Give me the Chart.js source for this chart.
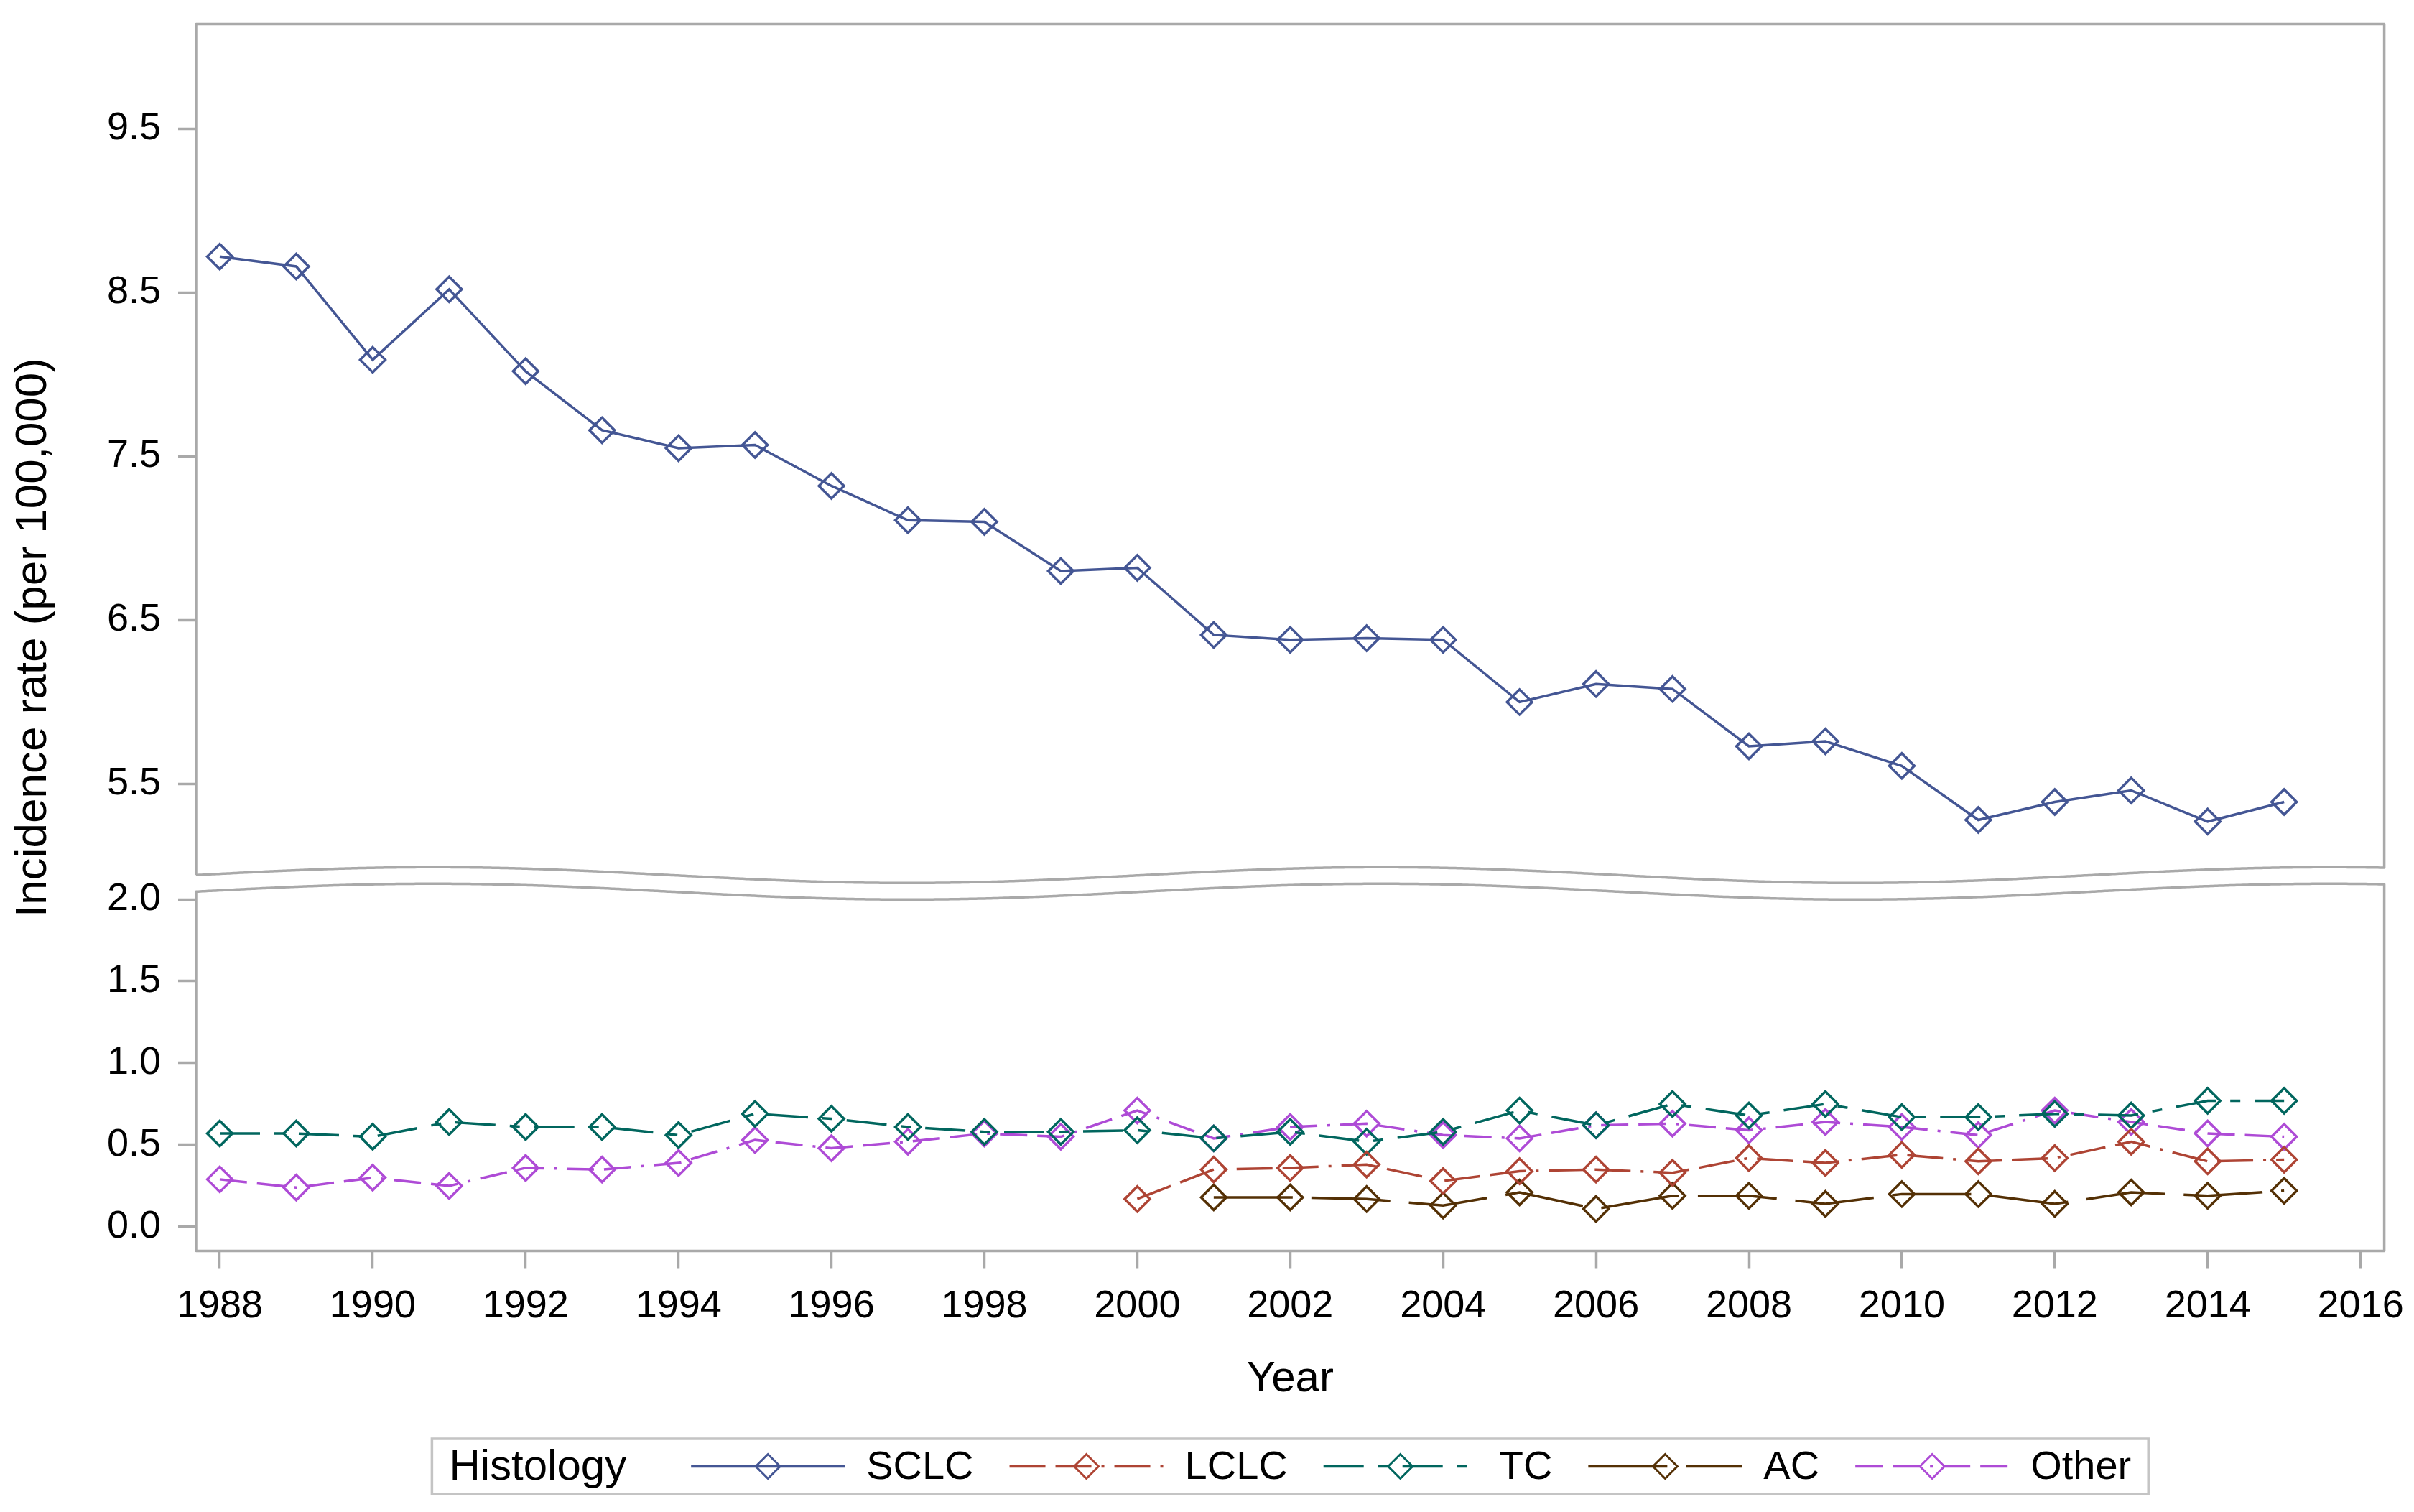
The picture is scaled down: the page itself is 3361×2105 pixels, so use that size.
<!DOCTYPE html>
<html>
<head>
<meta charset="utf-8">
<script src="https://cdn.jsdelivr.net/npm/chart.js@4.4.1/dist/chart.umd.min.js"></script>
<style>
html,body{margin:0;padding:0;background:#fff;overflow:hidden}
canvas{display:block}
</style>
</head>
<body>
<canvas id="c" width="3361" height="2105" style="width:3361px;height:2105px"></canvas>
<script>
// ---------------- data ----------------
const years = [1988,1989,1990,1991,1992,1993,1994,1995,1996,1997,1998,1999,2000,2001,2002,2003,2004,2005,2006,2007,2008,2009,2010,2011,2012,2013,2014,2015];
const seriesNames = ['SCLC','LCLC','TC','AC','Other'];
const sclc  = [8.72,8.66,8.09,8.52,8.02,7.66,7.55,7.57,7.32,7.11,7.10,6.80,6.82,6.41,6.38,6.39,6.38,6.00,6.11,6.08,5.73,5.76,5.61,5.28,5.39,5.46,5.27,5.39];
const lclc  = [null,null,null,null,null,null,null,null,null,null,null,null,0.17,0.35,0.36,0.38,0.28,0.34,0.35,0.33,0.42,0.39,0.44,0.40,0.42,0.52,0.40,0.41];
const tc    = [0.57,0.57,0.55,0.64,0.61,0.61,0.56,0.69,0.66,0.61,0.58,0.58,0.59,0.54,0.58,0.52,0.58,0.71,0.62,0.75,0.68,0.75,0.67,0.67,0.69,0.68,0.77,0.77];
const ac    = [null,null,null,null,null,null,null,null,null,null,null,null,null,0.18,0.18,0.17,0.13,0.21,0.11,0.19,0.19,0.14,0.20,0.20,0.14,0.21,0.19,0.22];
const other = [0.29,0.24,0.30,0.25,0.36,0.35,0.39,0.53,0.48,0.52,0.57,0.55,0.71,0.54,0.61,0.63,0.56,0.54,0.62,0.63,0.59,0.64,0.61,0.56,0.71,0.64,0.57,0.55];
const xTicks = [1988,1990,1992,1994,1996,1998,2000,2002,2004,2006,2008,2010,2012,2014,2016];
const yTopTicks = [5.5,6.5,7.5,8.5,9.5];
const yBotTicks = [0.0,0.5,1.0,1.5,2.0];
const legendTitle = 'Histology';
const xTitle = 'Year';
const yTitle = 'Incidence rate (per 100,000)';

// ---------------- styles ----------------
const FONT = '"Liberation Sans", Arial, Helvetica, sans-serif';
const colors = ['#445694','#AE4434','#01665E','#543005','#AE4BD6'];
const dashes = [[], [50,14,50,14,4,14], [56,20,14,20], [110,26], [38,14,38,14,4,14]];
const seriesData = [sclc, lclc, tc, ac, other];
const axisOf = ['yTop','yBot','yBot','yBot','yBot'];
const FRAME = '#A9A9A9';

const toXY = arr => years.map((yr, i) => ({x: yr, y: arr[i]}));

const datasets = seriesNames.map((name, i) => ({
  label: name,
  data: toXY(seriesData[i]),
  yAxisID: axisOf[i],
  borderColor: colors[i],
  backgroundColor: 'rgba(0,0,0,0)',
  borderWidth: 3.5,
  borderDash: dashes[i],
  tension: 0,
  spanGaps: false,
  pointStyle: 'rectRot',
  pointRadius: 17.5,
  pointBorderWidth: 3.5,
  pointBorderColor: colors[i],
  pointBackgroundColor: 'rgba(0,0,0,0)',
  fill: false
}));

// ---------------- plugins ----------------
const framePlugin = {
  id: 'breakFrames',
  afterDraw(chart) {
    const {ctx, chartArea: ca, scales} = chart;
    const B = scales.yTop.bottom;
    const L = ca.left, R = ca.right, T = ca.top, BT = ca.bottom;
    const P = (R - L) * 0.4333, A = 11;
    const wave = (x, off) => B + off - A * Math.sin(2 * Math.PI * (x - L) / P);
    ctx.save();
    ctx.strokeStyle = FRAME;
    ctx.lineWidth = 3.5;
    ctx.lineJoin = 'round';
    // top panel
    ctx.beginPath();
    ctx.moveTo(L, wave(L, -11.7));
    ctx.lineTo(L, T);
    ctx.lineTo(R, T);
    ctx.lineTo(R, wave(R, -11.7));
    for (let x = R; x >= L; x -= 3) ctx.lineTo(x, wave(x, -11.7));
    ctx.lineTo(L, wave(L, -11.7));
    ctx.stroke();
    // bottom panel
    ctx.beginPath();
    ctx.moveTo(L, wave(L, 11.3));
    for (let x = L; x <= R; x += 3) ctx.lineTo(x, wave(x, 11.3));
    ctx.lineTo(R, wave(R, 11.3));
    ctx.lineTo(R, BT);
    ctx.lineTo(L, BT);
    ctx.closePath();
    ctx.stroke();
    ctx.restore();
  }
};

function drawDiamond(ctx, x, y, r) {
  ctx.beginPath();
  ctx.moveTo(x - r, y);
  ctx.lineTo(x, y - r);
  ctx.lineTo(x + r, y);
  ctx.lineTo(x, y + r);
  ctx.closePath();
  ctx.stroke();
}

const legendPlugin = {
  id: 'sasLegend',
  afterDraw(chart) {
    const {ctx, chartArea: ca} = chart;
    ctx.save();
    const itemFont = '56px ' + FONT, titleFont = '60px ' + FONT;
    const sampleW = 214, textGap = 30, itemGap = 50, padX = 24, titleGap = 90;
    ctx.font = titleFont;
    const titleW = ctx.measureText(legendTitle).width;
    ctx.font = itemFont;
    const textW = seriesNames.map(n => ctx.measureText(n).width);
    let total = padX + titleW + titleGap + padX;
    textW.forEach(w => { total += sampleW + textGap + w; });
    total += itemGap * (seriesNames.length - 1);
    const cx = (ca.left + ca.right) / 2;
    const x0 = cx - total / 2;
    const top = chart.height - 102, h = 77;
    const cy = top + h / 2;
    // box
    ctx.strokeStyle = '#C4C4C4';
    ctx.lineWidth = 3.5;
    ctx.strokeRect(x0, top, total, h);
    // title
    ctx.fillStyle = '#000';
    ctx.textBaseline = 'middle';
    ctx.textAlign = 'left';
    let x = x0 + padX;
    ctx.font = titleFont;
    ctx.fillText(legendTitle, x, cy + 2);
    x += titleW + titleGap;
    ctx.font = itemFont;
    seriesNames.forEach((name, i) => {
      ctx.save();
      ctx.strokeStyle = colors[i];
      ctx.lineWidth = 3.5;
      ctx.setLineDash(dashes[i]);
      ctx.beginPath();
      ctx.moveTo(x, cy);
      ctx.lineTo(x + sampleW, cy);
      ctx.stroke();
      ctx.setLineDash([]);
      ctx.lineWidth = 3;
      drawDiamond(ctx, x + sampleW / 2, cy, 17);
      ctx.restore();
      x += sampleW + textGap;
      ctx.fillStyle = '#000';
      ctx.fillText(name, x, cy + 2);
      x += textW[i] + itemGap;
    });
    ctx.restore();
  }
};

// ---------------- chart ----------------
const tickFont = {family: FONT, size: 54, lineHeight: 1.0};
const tickGrid = {display: true, drawOnChartArea: false, drawTicks: true, tickLength: 25, tickWidth: 3.5, tickColor: FRAME, color: FRAME};

new Chart(document.getElementById('c'), {
  type: 'line',
  data: {datasets},
  plugins: [framePlugin, legendPlugin],
  options: {
    responsive: false,
    animation: false,
    devicePixelRatio: 1,
    layout: {padding: {top: 33.5, right: 41.4, bottom: 133.5, left: 0}},
    plugins: {
      legend: {display: false},
      tooltip: {enabled: false},
      title: {
        display: true,
        position: 'left',
        fullSize: false,
        text: yTitle,
        color: '#000',
        font: {family: FONT, size: 62, weight: 'normal', lineHeight: 1.2},
        padding: {top: 10, bottom: 10}
      }
    },
    scales: {
      x: {
        type: 'linear',
        min: 1987.69,
        max: 2016.31,
        border: {display: false},
        grid: tickGrid,
        afterBuildTicks: s => { s.ticks = xTicks.map(v => ({value: v})); },
        afterFit: s => { s.height = 230; s.paddingLeft = 0; s.paddingRight = 0; },
        ticks: {
          font: tickFont, color: '#000', padding: 26, maxRotation: 0, autoSkip: false,
          callback: v => String(v)
        },
        title: {display: true, text: xTitle, color: '#000', font: {family: FONT, size: 60, lineHeight: 1.2}, padding: {top: 0, bottom: 15}}
      },
      yTop: {
        type: 'linear',
        position: 'left',
        stack: 'y',
        stackWeight: 5.248,
        weight: 2,
        min: 4.892,
        max: 10.14,
        border: {display: false},
        grid: tickGrid,
        afterBuildTicks: s => { s.ticks = yTopTicks.map(v => ({value: v})); },
        afterFit: s => { s.width = 178.6; s.paddingTop = 0; s.paddingBottom = 0; },
        ticks: {font: tickFont, color: '#000', padding: 24, autoSkip: false, callback: v => Number(v).toFixed(1)}
      },
      yBot: {
        type: 'linear',
        position: 'left',
        stack: 'y',
        stackWeight: 2.2435,
        weight: 1,
        min: -0.147,
        max: 2.0965,
        border: {display: false},
        grid: tickGrid,
        afterBuildTicks: s => { s.ticks = yBotTicks.map(v => ({value: v})); },
        afterFit: s => { s.width = 178.6; s.paddingTop = 0; s.paddingBottom = 0; },
        ticks: {font: tickFont, color: '#000', padding: 24, autoSkip: false, callback: v => Number(v).toFixed(1)}
      }
    }
  }
});
</script>
</body>
</html>
